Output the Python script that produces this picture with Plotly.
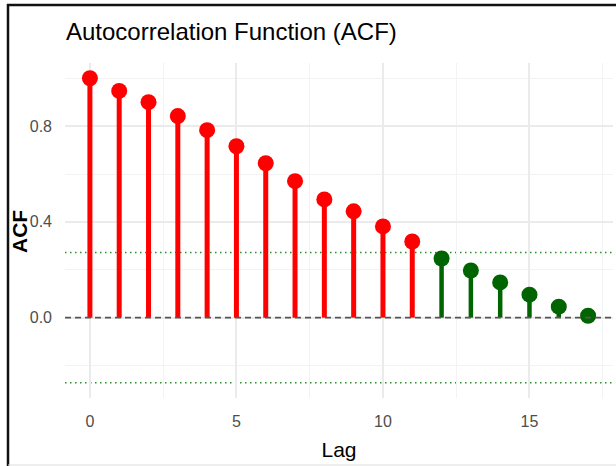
import plotly.graph_objects as go

# ---- data ----
lags = list(range(18))
acf_values = [1.0, 0.947, 0.90, 0.842, 0.783, 0.716, 0.645, 0.57, 0.494,
              0.444, 0.381, 0.318, 0.247, 0.197, 0.147, 0.096, 0.046, 0.008]
conf_limit = 0.272
x_tick_major = [0, 5, 10, 15]
x_tick_minor = [2.5, 7.5, 12.5, 17.5]
y_tick_major = [0.0, 0.4, 0.8]
y_tick_labels = ["0.0", "0.4", "0.8"]
y_tick_minor = [-0.2, 0.2, 0.6, 1.0]

RED = "#FF0000"
GREEN = "#006400"
CONF_GREEN = "#2a8f2a"

W, H = 616, 466
ML, MR, MT, MB = 65, 3, 63, 68

sig = [abs(v) > conf_limit for v in acf_values]


def stems(mask):
    xs, ys = [], []
    for x, y, m in zip(lags, acf_values, mask):
        if m:
            xs += [x, x, None]
            ys += [0, y, None]
    return xs, ys


fig = go.Figure()
for mask, col, lw in [(sig, RED, 5), ([not s for s in sig], GREEN, 4.5)]:
    xs, ys = stems(mask)
    fig.add_trace(go.Scatter(x=xs, y=ys, mode="lines",
                             line=dict(color=col, width=lw),
                             hoverinfo="skip", showlegend=False))
    fig.add_trace(go.Scatter(
        x=[x for x, m in zip(lags, mask) if m],
        y=[y for y, m in zip(acf_values, mask) if m],
        mode="markers", marker=dict(color=col, size=16, line=dict(width=0)),
        showlegend=False))

# reference lines
fig.add_hline(y=0, line=dict(color="#555555", width=1.6, dash="6px,4px"), layer="above")
for c in (conf_limit, -conf_limit):
    fig.add_hline(y=c, line=dict(color=CONF_GREEN, width=1.4, dash="1.5px,3.5px"), layer="below")

# ggplot-like 5% expansion
xmin, xmax = min(lags), max(lags)
xpad = (xmax - xmin) * 0.05
ylo = min(min(acf_values), -conf_limit)
yhi = max(max(acf_values), conf_limit)
ypad = (yhi - ylo) * 0.05

tick_font = dict(family="Liberation Sans, Arial", size=16, color="#4D4D4D")

pw, ph = W - ML - MR, H - MT - MB
def px_x(p): return (p - ML) / pw
def px_y(p): return (H - MB - p) / ph

fig.update_layout(
    width=W, height=H,
    margin=dict(l=ML, r=MR, t=MT, b=MB),
    paper_bgcolor="white", plot_bgcolor="white",
    title=dict(text="Autocorrelation Function (ACF)",
               font=dict(family="Liberation Sans, Arial", size=24, color="black"),
               x=(66) / W, xanchor="left", xref="container",
               y=1 - 32 / H, yanchor="middle", yref="container"),
    xaxis=dict(range=[xmin - xpad, xmax + xpad], tickvals=x_tick_major,
               showgrid=True, gridcolor="#EBEBEB", gridwidth=1.6,
               zeroline=False, showline=False, ticks="", tickfont=tick_font,
               ticklabelstandoff=12,
               minor=dict(tickvals=x_tick_minor, showgrid=True, gridcolor="#F3F3F3", gridwidth=1.1),
               title=dict(text="Lag", standoff=13,
                          font=dict(family="Liberation Sans, Arial", size=21, color="black"))),
    yaxis=dict(range=[ylo - ypad, yhi + ypad], tickvals=y_tick_major, ticktext=y_tick_labels,
               showgrid=True, gridcolor="#EBEBEB", gridwidth=1.6,
               zeroline=False, showline=False, ticks="", tickfont=tick_font,
               ticklabelstandoff=12,
               minor=dict(tickvals=y_tick_minor, showgrid=True, gridcolor="#F3F3F3", gridwidth=1.1)),
    annotations=[dict(text="<b>ACF</b>", textangle=-90, showarrow=False,
                      xref="paper", yref="paper", x=px_x(19), y=px_y(232),
                      xanchor="center", yanchor="middle",
                      font=dict(family="Liberation Sans, Arial", size=21, color="black"))],
)

# frame lines of the original screenshot (top, left dark; bottom light)
fig.add_shape(type="line", xref="paper", yref="paper", x0=px_x(7), x1=px_x(W + 2),
              y0=px_y(5), y1=px_y(5), line=dict(color="#111111", width=2.5))
fig.add_shape(type="line", xref="paper", yref="paper", x0=px_x(8), x1=px_x(8),
              y0=px_y(4), y1=px_y(H + 2), line=dict(color="#111111", width=2.5))
fig.add_shape(type="line", xref="paper", yref="paper", x0=px_x(8), x1=px_x(W + 2),
              y0=px_y(465), y1=px_y(465), line=dict(color="#DDDDDD", width=1))

fig.write_html("out.html")
